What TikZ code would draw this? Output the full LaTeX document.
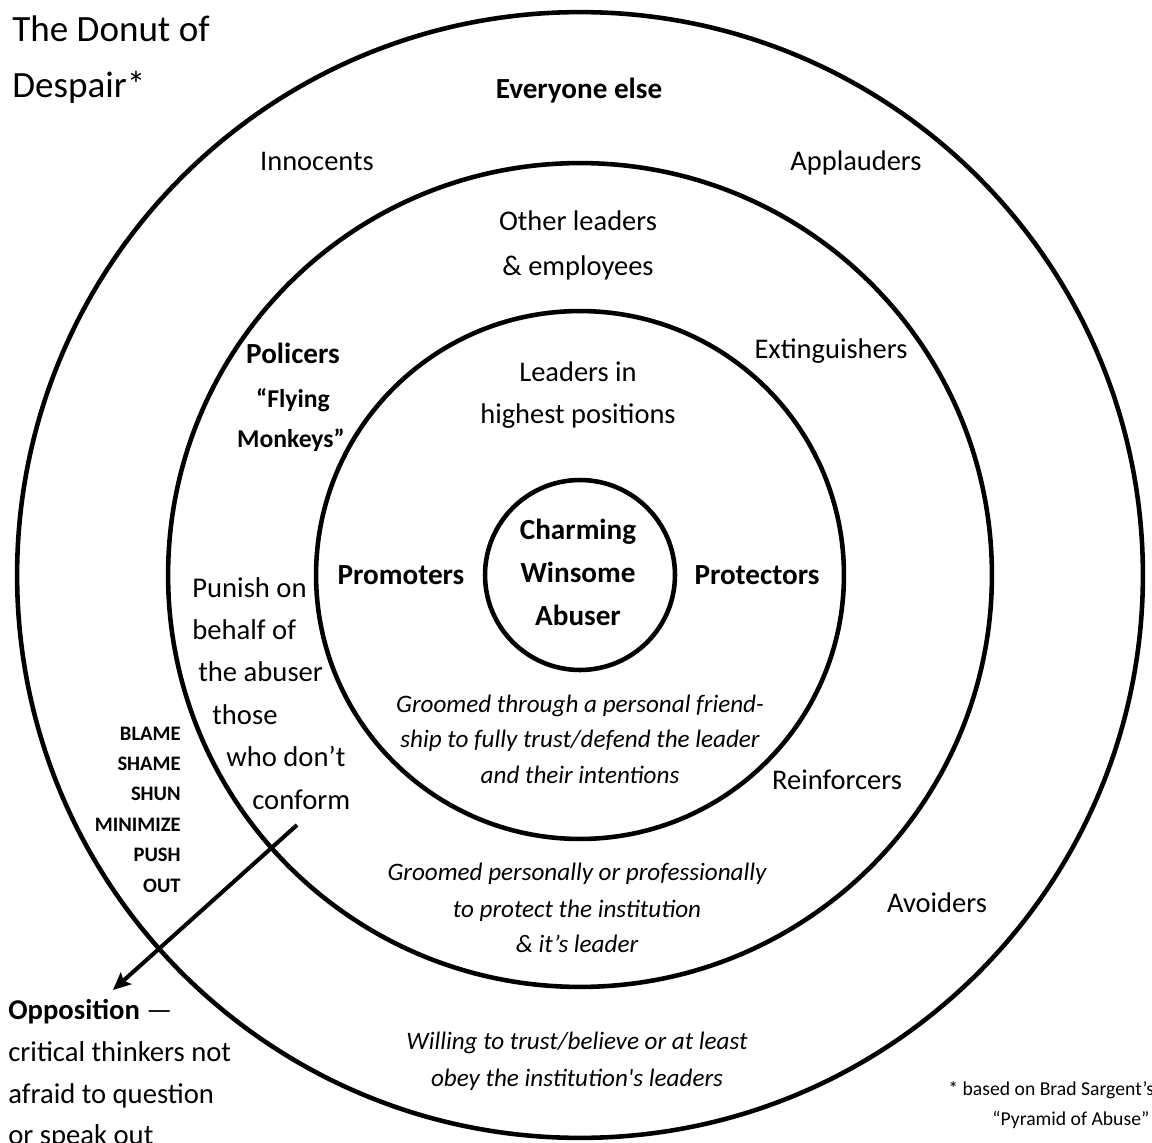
\documentclass[tikz,border=0pt]{standalone}
\usepackage{fontspec}
\setmainfont{Carlito}
\usetikzlibrary{arrows.meta}
\begin{document}
\begin{tikzpicture}[x=0.02cm,y=-0.02cm,
  ring/.style={circle, draw, line width=2.6pt, inner sep=0pt, outer sep=0pt},
  lbl/.style={font=\fontsize{16.2}{19}\selectfont, anchor=base, inner sep=0pt},
  blbl/.style={font=\fontsize{16.6}{19}\selectfont\bfseries, anchor=base, inner sep=0pt},
  side/.style={font=\fontsize{16.3}{19}\selectfont, anchor=base west, inner sep=0pt},
  ital/.style={font=\fontsize{14.3}{17}\selectfont\itshape, anchor=base, inner sep=0pt},
  tactic/.style={font=\fontsize{11.7}{14}\selectfont\bfseries, anchor=base east, inner sep=0pt},
  title/.style={font=\fontsize{21.1}{25}\selectfont, anchor=base west, inner sep=0pt},
  note/.style={font=\fontsize{11.2}{14}\selectfont, anchor=base west, inner sep=0pt},
  monkey/.style={font=\fontsize{14.6}{17}\selectfont\bfseries, anchor=base, inner sep=0pt},
  push/.style={line width=2.3pt, -{Stealth[length=10pt,width=9pt,inset=2pt]}}]
\useasboundingbox (0,0) rectangle (1152,1142);

% rings
\node[ring, minimum size=22.52cm] (outer) at (580,575) {};
\node[ring, minimum size=16.48cm] (middle) at (580,575) {};
\node[ring, minimum size=10.56cm] (inner) at (580,575) {};
\node[ring, minimum size=3.8cm] (core) at (580,575) {};

% title
\node[title] (t1) at (12,42) {The Donut of};
\node[title] (t2) at (12,98) {Despair*};

% outer ring
\node[blbl] (everyone) at (579,99) {Everyone else};
\node[lbl] (innocents) at (317,171) {Innocents};
\node[lbl] (applauders) at (856,171) {Applauders};
\node[lbl] (avoiders) at (937,912) {Avoiders};
\node[ital] (will1) at (577,1049) {Willing to trust/believe or at least};
\node[ital] (will2) at (577,1086) {obey the institution\textquotesingle s leaders};

% middle ring
\node[lbl] (other1) at (578,231) {Other leaders};
\node[lbl] (other2) at (578,275) {\& employees};
\node[lbl] (extinguishers) at (831,358) {Extinguishers};
\node[lbl] (reinforcers) at (837,789) {Reinforcers};
\node[blbl] (policers) at (293,363) {Policers};
\node[monkey] (fly1) at (293,407) {“Flying};
\node[monkey] (fly2) at (291,447) {Monkeys”};
\node[side] (p1) at (192,597) {Punish on};
\node[side] (p2) at (192,639) {behalf of};
\node[side] (p3) at (198,681) {the abuser};
\node[side] (p4) at (212,724) {those};
\node[side] (p5) at (226,766) {who don’t};
\node[side] (p6) at (252,809) {conform};
\node[ital] (gp1) at (577,880) {Groomed personally or professionally};
\node[ital] (gp2) at (577,917) {to protect the institution};
\node[ital] (gp3) at (577,952) {\& it’s leader};

% inner ring
\node[lbl] (lead1) at (578,381) {Leaders in};
\node[lbl] (lead2) at (578,423) {highest positions};
\node[blbl] (promoters) at (401,584) {Promoters};
\node[blbl] (protectors) at (757,584) {Protectors};
\node[ital] (gt1) at (580,712) {Groomed through a personal friend-};
\node[ital] (gt2) at (580,747) {ship to fully trust/defend the leader};
\node[ital] (gt3) at (580,783) {and their intentions};

% core
\node[blbl] (c1) at (578,539) {Charming};
\node[blbl] (c2) at (578,582) {Winsome};
\node[blbl] (c3) at (578,625) {Abuser};

% tactics
\node[tactic] (k1) at (181,740) {BLAME};
\node[tactic] (k2) at (181,770) {SHAME};
\node[tactic] (k3) at (181,800) {SHUN};
\node[tactic] (k4) at (181,831) {MINIMIZE};
\node[tactic] (k5) at (181,861) {PUSH};
\node[tactic] (k6) at (181,892) {OUT};

% opposition
\node[side] (o1) at (8,1019) {\textbf{Opposition} —};
\node[side] (o2) at (8,1061) {critical thinkers not};
\node[side] (o3) at (8,1103) {afraid to question};
\node[side] (o4) at (8,1144) {or speak out};

% footnote
\node[note] (n1) at (948,1095) {* based on Brad Sargent’s};
\node[note] (n2) at (992,1125) {“Pyramid of Abuse”};

% arrow
\coordinate (astart) at (297,825);
\coordinate (aend) at (113,990);
\draw[push] (astart) -- (aend);
\end{tikzpicture}
\end{document}
